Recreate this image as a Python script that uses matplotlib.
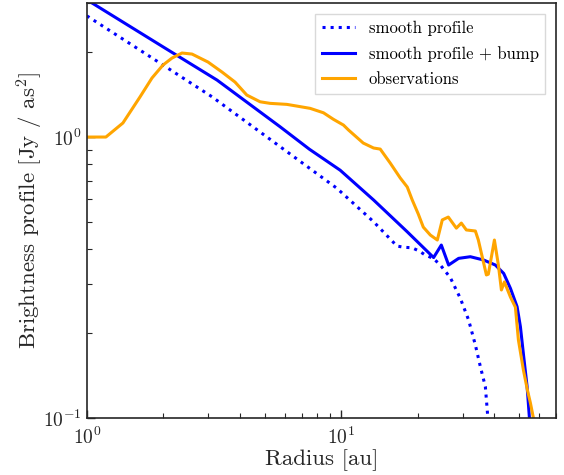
import matplotlib
matplotlib.use('Agg')
import matplotlib.pyplot as plt

plt.rcParams['font.family'] = 'serif'
plt.rcParams['font.serif'] = ['cmr10']
plt.rcParams['mathtext.fontset'] = 'cm'
plt.rcParams['axes.formatter.use_mathtext'] = True
plt.rcParams['axes.unicode_minus'] = False

# smooth profile (dotted)
r_smooth = [1.0, 1.77, 3.105, 5.25, 9.62, 13.41, 16.57, 17.7, 18.98, 20.28, 21.42,
            23.03, 24.54, 26.86, 29.41, 31.7, 33.7, 35.26, 36.89, 37.74, 38.26]
b_smooth = [2.70, 1.934, 1.391, 0.982, 0.657, 0.4995, 0.4093, 0.405, 0.4037, 0.3928, 0.380,
            0.370, 0.3503, 0.316, 0.2667, 0.2233, 0.1819, 0.1523, 0.1293, 0.1, 0.0835]

# smooth profile + bump
r_bump = [1.0, 2.0, 3.25, 5.75, 7.5, 9.91, 13.41, 18.14, 23.09, 24.76, 26.45, 28.96, 32.2,
          36.33, 40.4, 43.55, 46.29, 49.17, 50.67, 52.21, 53.84, 54.98, 55.98]
b_bump = [3.08, 2.09, 1.595, 1.088, 0.905, 0.762, 0.597, 0.461, 0.3725, 0.4127, 0.3503, 0.370, 0.375,
          0.365, 0.3503, 0.327, 0.2894, 0.249, 0.2113, 0.1652, 0.1293, 0.1, 0.0835]

# observations
r_obs = [1.0, 1.188, 1.386, 1.617, 1.803, 1.992, 2.161, 2.366, 2.591, 2.995, 3.401, 3.825,
         4.254, 4.799, 5.253, 6.113, 6.692, 7.551, 8.518, 9.327, 10.21, 10.69, 12.21, 13.41,
         14.24, 15.59, 17.07, 18.19, 19.03, 20.10, 21.03, 22.41, 23.88, 24.98, 26.38, 28.37,
         29.68, 31.06, 33.70, 34.62, 37.24, 37.9, 40.04, 41.51, 42.66, 43.83, 46.29, 48.42,
         49.76, 52.06, 53.98, 55.47, 57.0, 58.05]
b_obs = [1.0, 1.0, 1.122, 1.388, 1.622, 1.804, 1.910, 1.991, 1.974, 1.849, 1.703, 1.569,
         1.411, 1.335, 1.318, 1.307, 1.289, 1.265, 1.220, 1.156, 1.103, 1.059, 0.952, 0.914,
         0.906, 0.808, 0.715, 0.664, 0.597, 0.532, 0.478, 0.448, 0.430, 0.507, 0.519, 0.474,
         0.494, 0.467, 0.463, 0.430, 0.323, 0.325, 0.430, 0.350, 0.2855, 0.305, 0.2696, 0.248,
         0.1895, 0.1482, 0.1258, 0.1131, 0.1, 0.0908]

fig = plt.figure(figsize=(5.64, 4.75), dpi=100)
ax = fig.add_axes([0.154, 0.12, 0.832, 0.8737])

ax.plot(r_smooth, b_smooth, ':', color='blue', lw=2.2, label='smooth profile')
ax.plot(r_bump, b_bump, '-', color='blue', lw=2.2, label='smooth profile + bump')
ax.plot(r_obs, b_obs, '-', color='orange', lw=2.2, label='observations')

ax.set_xscale('log')
ax.set_yscale('log')
ax.set_xlim(1, 70)
ax.set_ylim(0.1, 3.0)

ax.set_xlabel('Radius [au]', fontsize=16.5, color='0.15', labelpad=1)
ax.set_ylabel(r'Brightness profile [Jy / as$^2$]', fontsize=16.5, color='0.15', labelpad=-1)

ax.tick_params(which='both', direction='in', top=False, right=False, colors='0.15', labelsize=14)
ax.tick_params(which='major', length=6, width=1)
ax.tick_params(which='minor', length=3.5, width=0.8)
ax.tick_params(axis='x', which='both', pad=6)
for s in ax.spines.values():
    s.set_color('0.15')
    s.set_linewidth(1.2)

leg = ax.legend(loc='upper right', fontsize=12, fancybox=False, framealpha=1,
                edgecolor='0.85', borderaxespad=0.65, labelspacing=0.6)

fig.savefig('out.png', dpi=100)
